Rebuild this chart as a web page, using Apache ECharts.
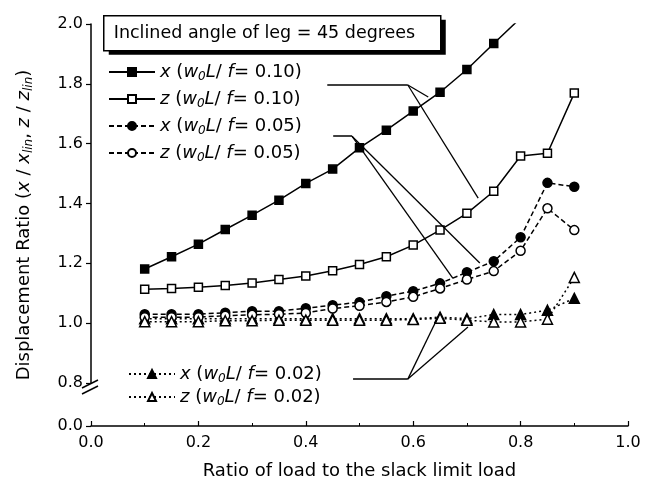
<!DOCTYPE html>
<html><head><meta charset="utf-8">
<script src="https://cdn.jsdelivr.net/npm/echarts@6/dist/echarts.min.js"></script>
<style>html,body{margin:0;padding:0;background:#fff}#c{width:652px;height:485px}</style>
</head><body><div id="c"></div>
<script>
// ---- data ----
const xs = [0.10,0.15,0.20,0.25,0.30,0.35,0.40,0.45,0.50,0.55,0.60,0.65,0.70,0.75,0.80,0.85,0.90];
const x010 = [1.181,1.222,1.264,1.313,1.361,1.411,1.467,1.515,1.586,1.645,1.709,1.772,1.848,1.935,2.02];
const z010 = [1.113,1.116,1.120,1.126,1.134,1.146,1.158,1.175,1.196,1.222,1.261,1.311,1.367,1.441,1.559,1.568,1.769];
const x005 = [1.030,1.030,1.030,1.035,1.040,1.040,1.050,1.060,1.070,1.090,1.107,1.133,1.170,1.207,1.287,1.469,1.456];
const z005 = [1.020,1.020,1.020,1.025,1.028,1.030,1.034,1.049,1.058,1.071,1.088,1.116,1.146,1.174,1.242,1.384,1.311];
const x002 = [1.015,1.015,1.015,1.015,1.015,1.015,1.015,1.015,1.015,1.015,1.015,1.020,1.015,1.029,1.029,1.043,1.083];
const z002 = [1.005,1.005,1.005,1.008,1.008,1.010,1.010,1.010,1.010,1.010,1.012,1.016,1.010,1.004,1.004,1.013,1.153];
const xTicks = [0.0,0.2,0.4,0.6,0.8,1.0];
const yTicks = [0.0,0.8,1.0,1.2,1.4,1.6,1.8,2.0];
const titleText = 'Inclined angle of leg = 45 degrees';
const legendRatio = {x010:['x','0.10'], z010:['z','0.10'], x005:['x','0.05'], z005:['z','0.05'], x002:['x','0.02'], z002:['z','0.02']};
// annotation leader lines (data space)
const annoHoriz = [[[0.440,1.796],[0.590,1.796]], [[0.451,1.625],[0.486,1.625]], [[0.488,0.813],[0.590,0.813]]];
const annoArrows = [[[0.590,1.796],[0.628,1.756]], [[0.590,1.796],[0.721,1.418]], [[0.486,1.625],[0.674,1.150]], [[0.486,1.625],[0.724,1.201]]];
const annoPlain = [[[0.590,0.813],[0.646,1.020]], [[0.590,0.813],[0.702,0.987]]];

const FONT = "'DejaVu Sans', Verdana, sans-serif";
const pairs = v => v.map((y,i)=>[xs[i], y]);
function mk(name, vals, symbol, filled, ltype, size){
  return {
    name, type:'line', data: pairs(vals), symbol, symbolSize: size,
    clip: true,
    lineStyle:{color:'#000', width:1.5, type:ltype},
    itemStyle:{color: filled?'#000':'#fff', borderColor:'#000', borderWidth:1.5},
    emphasis:{disabled:true}, z: filled?3:4
  };
}
const seg = (arr) => arr.map(s => [{coord:s[0]},{coord:s[1]}]);
const chart = echarts.init(document.getElementById('c'), null, {renderer:'canvas'});
const rich = {
  i:{fontStyle:'italic', fontSize:18, fontFamily:FONT, color:'#000'},
  n:{fontSize:18, fontFamily:FONT, color:'#000'},
  s:{fontStyle:'italic', fontSize:12, fontFamily:FONT, color:'#000', padding:[10,0,0,0]}
};
const legFmt = name => {
  const r = legendRatio[name];
  return `{i|${r[0]}}{n| (}{i|w}{s|0}{i|L}{n|/ }{i|f}{n|= ${r[1]})}`;
};
chart.setOption({
  animation:false,
  backgroundColor:'#fff',
  textStyle:{fontFamily:FONT, color:'#000'},
  grid:{left:91, right:24, top:24, bottom:59, containLabel:false},
  legend:[
    {data:['x010','z010','x005','z005'], orient:'vertical', left:103, top:58, itemWidth:46, itemHeight:10, itemGap:7,
     formatter:legFmt, textStyle:{rich, fontSize:18}, selectedMode:false},
    {data:['x002','z002'], orient:'vertical', left:123, top:360, itemWidth:46, itemHeight:10, itemGap:3,
     formatter:legFmt, textStyle:{rich, fontSize:18}, selectedMode:false}
  ],
  xAxis:{
    type:'value', min:0, max:1, interval:0.2,
    name:'Ratio of load to the slack limit load', nameLocation:'middle', nameGap:36,
    nameTextStyle:{fontSize:18, color:'#000', fontFamily:FONT},
    axisLine:{lineStyle:{color:'#000', width:1.5}},
    axisTick:{inside:true, length:5, lineStyle:{color:'#000', width:1.2}},
    minorTick:{show:true, splitNumber:2, length:3, lineStyle:{color:'#000'}},
    axisLabel:{fontSize:16, color:'#000', margin:9, fontFamily:FONT, formatter:v=>v.toFixed(1)},
    splitLine:{show:false}
  },
  yAxis:{
    type:'value', min:0, max:2, interval:0.2,
    breaks:[{start:0, end:0.8, gap:'10.7%'}],
    breakArea:{show:false},
    name:'{n|Displacement Ratio (}{i|x}{n| / }{i|x}{s|lin}{n|, }{i|z}{n| / }{i|z}{s|lin}{n|)}',
    nameLocation:'middle', nameGap:56, nameRotate:90,
    nameTextStyle:{fontSize:18, color:'#000', rich:{
      n:{fontSize:18, fontFamily:FONT, color:'#000'},
      i:{fontSize:18, fontStyle:'italic', fontFamily:FONT, color:'#000'},
      s:{fontSize:12, fontStyle:'italic', fontFamily:FONT, color:'#000', padding:[10,0,0,0]}
    }},
    axisLine:{show:true, lineStyle:{color:'#000', width:1.5}},
    axisTick:{inside:false, length:5, lineStyle:{color:'#000', width:1.2}},
    axisLabel:{fontSize:16, color:'#000', margin:8, fontFamily:FONT, formatter:v=>{
      const r = Math.round(v*10)/10; return yTicks.some(t=>Math.abs(t-v)<1e-6) ? r.toFixed(1) : '';
    }},
    splitLine:{show:false}
  },
  series:[
    mk('x010', x010, 'rect', true, 'solid', 8),
    mk('z010', z010, 'rect', false, 'solid', 8),
    mk('x005', x005, 'circle', true, [5,3], 9),
    mk('z005', z005, 'circle', false, [5,3], 9),
    mk('x002', x002, 'triangle', true, [2,3], 10),
    mk('z002', z002, 'triangle', false, [2,3], 10),
    {name:'annoH', type:'line', data:[], silent:true,
     markLine:{silent:true, symbol:['none','none'], label:{show:false}, animation:false,
       lineStyle:{color:'#000', width:1.5, type:'solid'}, emphasis:{disabled:true}, data:seg(annoHoriz)}},
    {name:'annoA', type:'line', data:[], silent:true,
     markLine:{silent:true, symbol:['none','arrow'], symbolSize:[0,7], label:{show:false}, animation:false,
       lineStyle:{color:'#000', width:1.3, type:'solid'}, emphasis:{disabled:true}, data:seg(annoArrows)}},
    {name:'annoP', type:'line', data:[], silent:true,
     markLine:{silent:true, symbol:['none','none'], label:{show:false}, animation:false,
       lineStyle:{color:'#000', width:1.3, type:'solid'}, emphasis:{disabled:true}, data:seg(annoPlain)}}
  ]
});
// axis break "//" marks and the boxed title
const px0 = chart.convertToPixel({xAxisIndex:0}, 0);
const py8 = chart.convertToPixel({yAxisIndex:0}, 0.8);
chart.setOption({graphic:[
  {type:'rect', shape:{x:px0-3, y:py8+1, width:6, height:8}, style:{fill:'#fff'}, z:100},
  {type:'line', shape:{x1:px0-9, y1:py8+5, x2:px0+7, y2:py8-3}, style:{stroke:'#000', lineWidth:1.5}, z:101},
  {type:'line', shape:{x1:px0-9, y1:py8+11, x2:px0+7, y2:py8+3}, style:{stroke:'#000', lineWidth:1.5}, z:101},
  {type:'group', left:103, top:15, z:110, children:[
    {type:'rect', shape:{x:5, y:4, width:337, height:35}, style:{fill:'#000'}},
    {type:'rect', shape:{x:0, y:0, width:337, height:35}, style:{fill:'#fff', stroke:'#000', lineWidth:1.5}},
    {type:'text', x:10, y:18, style:{text:titleText, font:"17.5px 'DejaVu Sans', sans-serif", fill:'#000', verticalAlign:'middle'}}
  ]}
]});
</script></body></html>
